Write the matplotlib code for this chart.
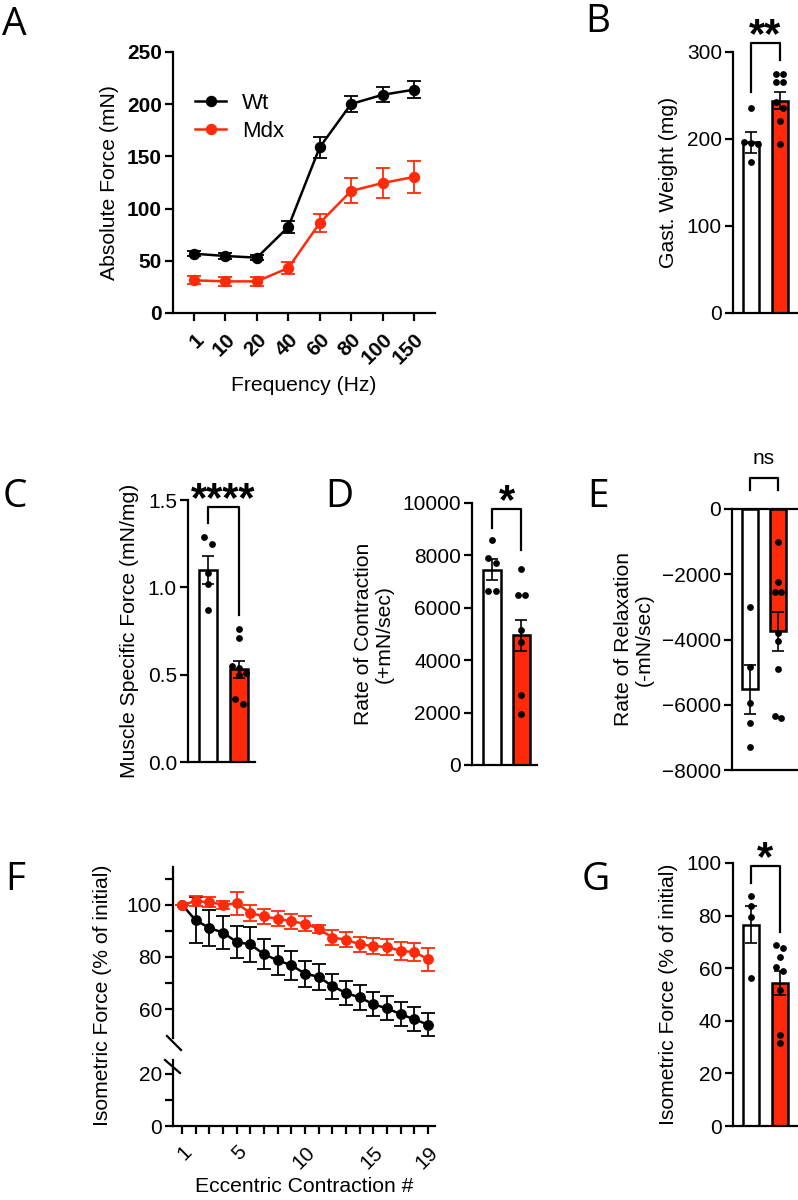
import numpy as np
import matplotlib
matplotlib.use('Agg')
import matplotlib.pyplot as plt
from matplotlib.lines import Line2D

plt.rcParams['font.family'] = ['Liberation Sans', 'DejaVu Sans']
plt.rcParams['axes.linewidth'] = 1.6

RED = '#ff2a0a'
TICK_FS = 15
LAB_FS = 15.2

# ---- data ----
# A: absolute force vs stimulation frequency
freq_labels = ['1', '10', '20', '40', '60', '80', '100', '150']
wt_force = [56.8, 54.6, 53.0, 82.4, 158.7, 200.2, 209.0, 213.9]
wt_force_err = [2.5, 2.5, 2.5, 5.5, 10, 8, 7, 8]
mdx_force = [31.3, 30.3, 30.3, 43.1, 86.2, 116.9, 124.5, 130.3]
mdx_force_err = [4, 4, 4, 6, 9, 12, 14, 15]

# B: gastrocnemius weight
gast_mean = [196, 244]
gast_sem = [12, 10]
gast_wt_pts = [236, 196, 195, 194, 173]
gast_mdx_pts = [275, 275, 266, 266, 243, 236, 221, 194]

# C: specific force
spec_mean = [1.10, 0.53]
spec_sem = [0.08, 0.05]
spec_wt_pts = [1.29, 1.25, 1.08, 1.02, 0.87]
spec_mdx_pts = [0.76, 0.71, 0.55, 0.54, 0.51, 0.50, 0.36, 0.33]

# D: rate of contraction
rc_mean = [7450, 4950]
rc_sem = [400, 600]
rc_wt_pts = [8600, 7900, 7700, 6650, 6650]
rc_mdx_pts = [7480, 6470, 6470, 5150, 4710, 2680, 1950]

# E: rate of relaxation
rr_mean = [-5530, -3750]
rr_sem = [750, 600]
rr_wt_pts = [-3000, -4850, -5950, -6550, -7300]
rr_mdx_pts = [-1000, -2250, -2550, -2550, -3800, -4050, -4900, -6400, -6350]

# F: eccentric contractions
ecc_n = list(range(1, 20))
wt_ecc = [100, 94.0, 91.1, 89.3, 85.7, 84.8, 81.0, 78.7, 76.8, 73.6,
          72.4, 68.8, 66.2, 64.5, 61.9, 60.3, 58.1, 56.1, 54.1]
wt_ecc_err = [0, 8.8, 7.0, 6.4, 6.2, 6.7, 5.7, 5.5, 5.5, 5.0,
              5.0, 4.8, 4.6, 4.6, 4.6, 4.6, 4.6, 4.6, 4.5]
mdx_ecc = [100, 101.3, 101.0, 100.0, 100.5, 96.8, 95.5, 94.6, 93.6, 92.7,
           90.8, 87.4, 86.6, 84.8, 84.2, 83.8, 82.3, 81.9, 79.1]
mdx_ecc_err = [0, 2, 2, 1.5, 4.5, 3, 2.8, 2.8, 2.8, 2.8,
               1.5, 3, 2.8, 3, 3, 3, 3.5, 3.5, 4.5]

# G: isometric force after protocol
iso_mean = [76.6, 54.5]
iso_sem = [7, 4.5]
iso_wt_pts = [87.3, 83.5, 79.3, 56.2]
iso_mdx_pts = [68.8, 67.5, 64.4, 60.6, 59.0, 51.7, 34.6, 31.6]

# ---- figure ----
W, H = 798, 1200
fig = plt.figure(figsize=(W / 100, H / 100), dpi=100)


def ax_px(l, t, r, b):
    return fig.add_axes([l / W, 1 - b / H, (r - l) / W, (b - t) / H])


def style(ax, bold=False):
    for s in ['top', 'right']:
        ax.spines[s].set_visible(False)
    ax.tick_params(axis='y', length=6, width=1.6, labelsize=TICK_FS, pad=2)
    ax.tick_params(axis='x', length=6, width=1.6, labelsize=TICK_FS, pad=2)
    if bold:
        for lab in ax.get_yticklabels() + ax.get_xticklabels():
            lab.set_fontweight('bold')


def swarm(vals, ax_h_px, yrange, dot_px=7.0, step=0.24):
    # simple symmetric spread of points that overlap vertically
    order = np.argsort(vals)[::-1]
    v = np.array(vals, dtype=float)[order]
    offs = np.zeros(len(v))
    i = 0
    while i < len(v):
        j = i
        while j + 1 < len(v) and abs(v[j + 1] - v[i]) / yrange * ax_h_px < dot_px:
            j += 1
        n = j - i + 1
        offs[i:j + 1] = (np.arange(n) - (n - 1) / 2) * step
        i = j + 1
    out = np.zeros(len(v))
    out[order] = offs
    return out


def bar_panel(ax, means, sems, pts_list, ylim, ax_h_px):
    xs = [0, 1]
    ax.bar(xs, means, width=0.58, color=['white', RED], edgecolor='black',
           linewidth=1.8, zorder=2)
    ax.errorbar(xs, means, yerr=sems, fmt='none', ecolor='black',
                elinewidth=1.2, capsize=4, capthick=1.2, zorder=3)
    yr = ylim[1] - ylim[0]
    for x, pts in zip(xs, pts_list):
        off = swarm(pts, ax_h_px, yr)
        ax.scatter(x + off, pts, s=24, color='black', zorder=4, linewidths=0)
    ax.set_xticks([])
    ax.set_ylim(*ylim)


def bracket(ax, top, left, right, text, bold=True, size=30, gap=-3):
    ax.plot([0, 0, 1, 1], [left, top, top, right], color='black', lw=1.6,
            clip_on=False, zorder=5)
    ax.annotate(text, xy=(0.5, top), xytext=(0, gap), textcoords='offset points',
                ha='center', va='baseline', fontsize=size,
                fontweight='bold' if bold else 'normal', annotation_clip=False)


# ---- A ----
axA = ax_px(173, 52, 435, 313)
xA = np.arange(len(freq_labels))
axA.errorbar(xA, wt_force, yerr=wt_force_err, color='black', lw=1.8, marker='o',
             ms=7.2, capsize=5, elinewidth=1.3, capthick=1.3, label='Wt', zorder=3)
axA.errorbar(xA, mdx_force, yerr=mdx_force_err, color=RED, lw=1.8, marker='o',
             ms=7.2, capsize=5, elinewidth=1.3, capthick=1.3, label='Mdx', zorder=4)
axA.set_xlim(-0.67, 7.67)
axA.set_ylim(0, 250)
axA.set_yticks(range(0, 251, 50))
axA.set_xticks(xA)
axA.set_xticklabels(freq_labels, rotation=45, ha='right', va='top',
                    rotation_mode='anchor')
style(axA, bold=True)
axA.tick_params(axis='x', pad=6)
axA.set_ylabel('Absolute Force (mN)', fontsize=LAB_FS, labelpad=6)
axA.set_xlabel('Frequency (Hz)', fontsize=LAB_FS, labelpad=6)
h, l = axA.get_legend_handles_labels()
hh = [Line2D([], [], color=c, lw=1.8, marker='o', ms=7.2) for c in ['black', RED]]
axA.legend(hh, l, loc='center left', bbox_to_anchor=(0.085, 0.75), frameon=False,
           fontsize=16, handlelength=1.4, handletextpad=0.7, labelspacing=0.3,
           borderpad=0, borderaxespad=0)

# ---- B ----
axB = ax_px(733, 52, 797, 313)
bar_panel(axB, gast_mean, gast_sem, [gast_wt_pts, gast_mdx_pts], (0, 300), 261)
axB.set_xlim(-0.62, 1.59)
axB.set_yticks([0, 100, 200, 300])
style(axB)
axB.set_ylabel('Gast. Weight (mg)', fontsize=LAB_FS, labelpad=6)
bracket(axB, 310, 254, 291, '**')

# ---- C ----
axC = ax_px(188, 500, 255, 762)
bar_panel(axC, spec_mean, spec_sem, [spec_wt_pts, spec_mdx_pts], (0, 1.5), 262)
axC.set_xlim(-0.65, 1.52)
axC.set_yticks([0, 0.5, 1.0, 1.5])
axC.set_yticklabels(['0.0', '0.5', '1.0', '1.5'])
style(axC)
axC.set_ylabel('Muscle Specific Force (mN/mg)', fontsize=LAB_FS, labelpad=6)
bracket(axC, 1.46, 1.37, 0.84, '****')

# ---- D ----
axD = ax_px(472, 503, 537, 765)
bar_panel(axD, rc_mean, rc_sem, [rc_wt_pts, rc_mdx_pts], (0, 10000), 262)
axD.set_xlim(-0.68, 1.53)
axD.set_yticks(range(0, 10001, 2000))
style(axD)
axD.set_ylabel('Rate of Contraction\n(+mN/sec)', fontsize=LAB_FS, labelpad=6,
               linespacing=1.1)
bracket(axD, 9770, 9050, 8200, '*')

# ---- E ----
axE = ax_px(732, 509, 797, 770)
bar_panel(axE, rr_mean, rr_sem, [rr_wt_pts, rr_mdx_pts], (-8000, 0), 261)
axE.set_xlim(-0.64, 1.68)
axE.set_yticks(range(-8000, 1, 2000))
style(axE)
axE.spines['top'].set_visible(True)
axE.set_ylabel('Rate of Relaxation\n(-mN/sec)', fontsize=LAB_FS, labelpad=6,
               linespacing=1.1)
bracket(axE, 950, 580, 580, 'ns', bold=False, size=15, gap=10)

# ---- F ----
axF1 = ax_px(173, 867, 435, 1038)
axF2 = ax_px(173, 1060, 435, 1126)
for ax in (axF1, axF2):
    ax.errorbar(ecc_n, wt_ecc, yerr=wt_ecc_err, color='black', lw=1.8, marker='o',
                ms=6.8, capsize=5, elinewidth=1.3, capthick=1.3, zorder=3)
    ax.errorbar(ecc_n, mdx_ecc, yerr=mdx_ecc_err, color=RED, lw=1.8, marker='o',
                ms=6.8, capsize=5, elinewidth=1.3, capthick=1.3, zorder=4)
    ax.set_xlim(0.34, 19.5)
    style(ax)
axF1.set_ylim(49, 114.4)
axF1.set_yticks([60, 80, 100])
axF1.set_yticks([70, 90, 110], minor=True)
axF1.tick_params(axis='y', which='minor', length=6, width=1.6)
axF1.spines['bottom'].set_visible(False)
axF1.tick_params(axis='x', which='both', bottom=False, labelbottom=False)
axF2.set_ylim(0, 25.2)
axF2.set_yticks([0, 20])
axF2.set_yticks([10], minor=True)
axF2.tick_params(axis='y', which='minor', length=6, width=1.6)
axF2.set_xticks(ecc_n)
axF2.set_xticklabels([str(n) if n in (1, 5, 10, 15, 19) else '' for n in ecc_n],
                     rotation=45, ha='right', va='top', rotation_mode='anchor')
axF2.tick_params(axis='x', pad=6)
axF2.set_xlabel('Eccentric Contraction #', fontsize=LAB_FS, labelpad=3)
for (x0, y0, x1, y1) in [(167, 1036, 181, 1050), (165, 1060, 180, 1073)]:
    fig.add_artist(Line2D([x0 / W, x1 / W], [1 - y0 / H, 1 - y1 / H],
                          color='black', lw=1.6, transform=fig.transFigure))
fig.text(103 / W, 1 - 995 / H, 'Isometric Force (% of initial)', rotation=90,
         ha='center', va='center', fontsize=LAB_FS)

# ---- G ----
axG = ax_px(733, 863, 797, 1126)
bar_panel(axG, iso_mean, iso_sem, [iso_wt_pts, iso_mdx_pts], (0, 100), 263)
axG.set_xlim(-0.62, 1.59)
axG.set_yticks(range(0, 101, 20))
style(axG)
axG.set_ylabel('Isometric Force (% of initial)', fontsize=LAB_FS, labelpad=6)
bracket(axG, 98.9, 92.4, 73.8, '*')

# ---- panel letters ----
for letter, x, y in [('A', 2, 35), ('B', 585, 32), ('C', 3, 507), ('D', 325, 507),
                     ('E', 587, 507), ('F', 5, 890), ('G', 582, 890)]:
    fig.text(x / W, 1 - y / H, letter, fontsize=28, family=['Open Sans', 'DejaVu Sans'],
             ha='left', va='baseline')

fig.savefig('out.png', dpi=100)
